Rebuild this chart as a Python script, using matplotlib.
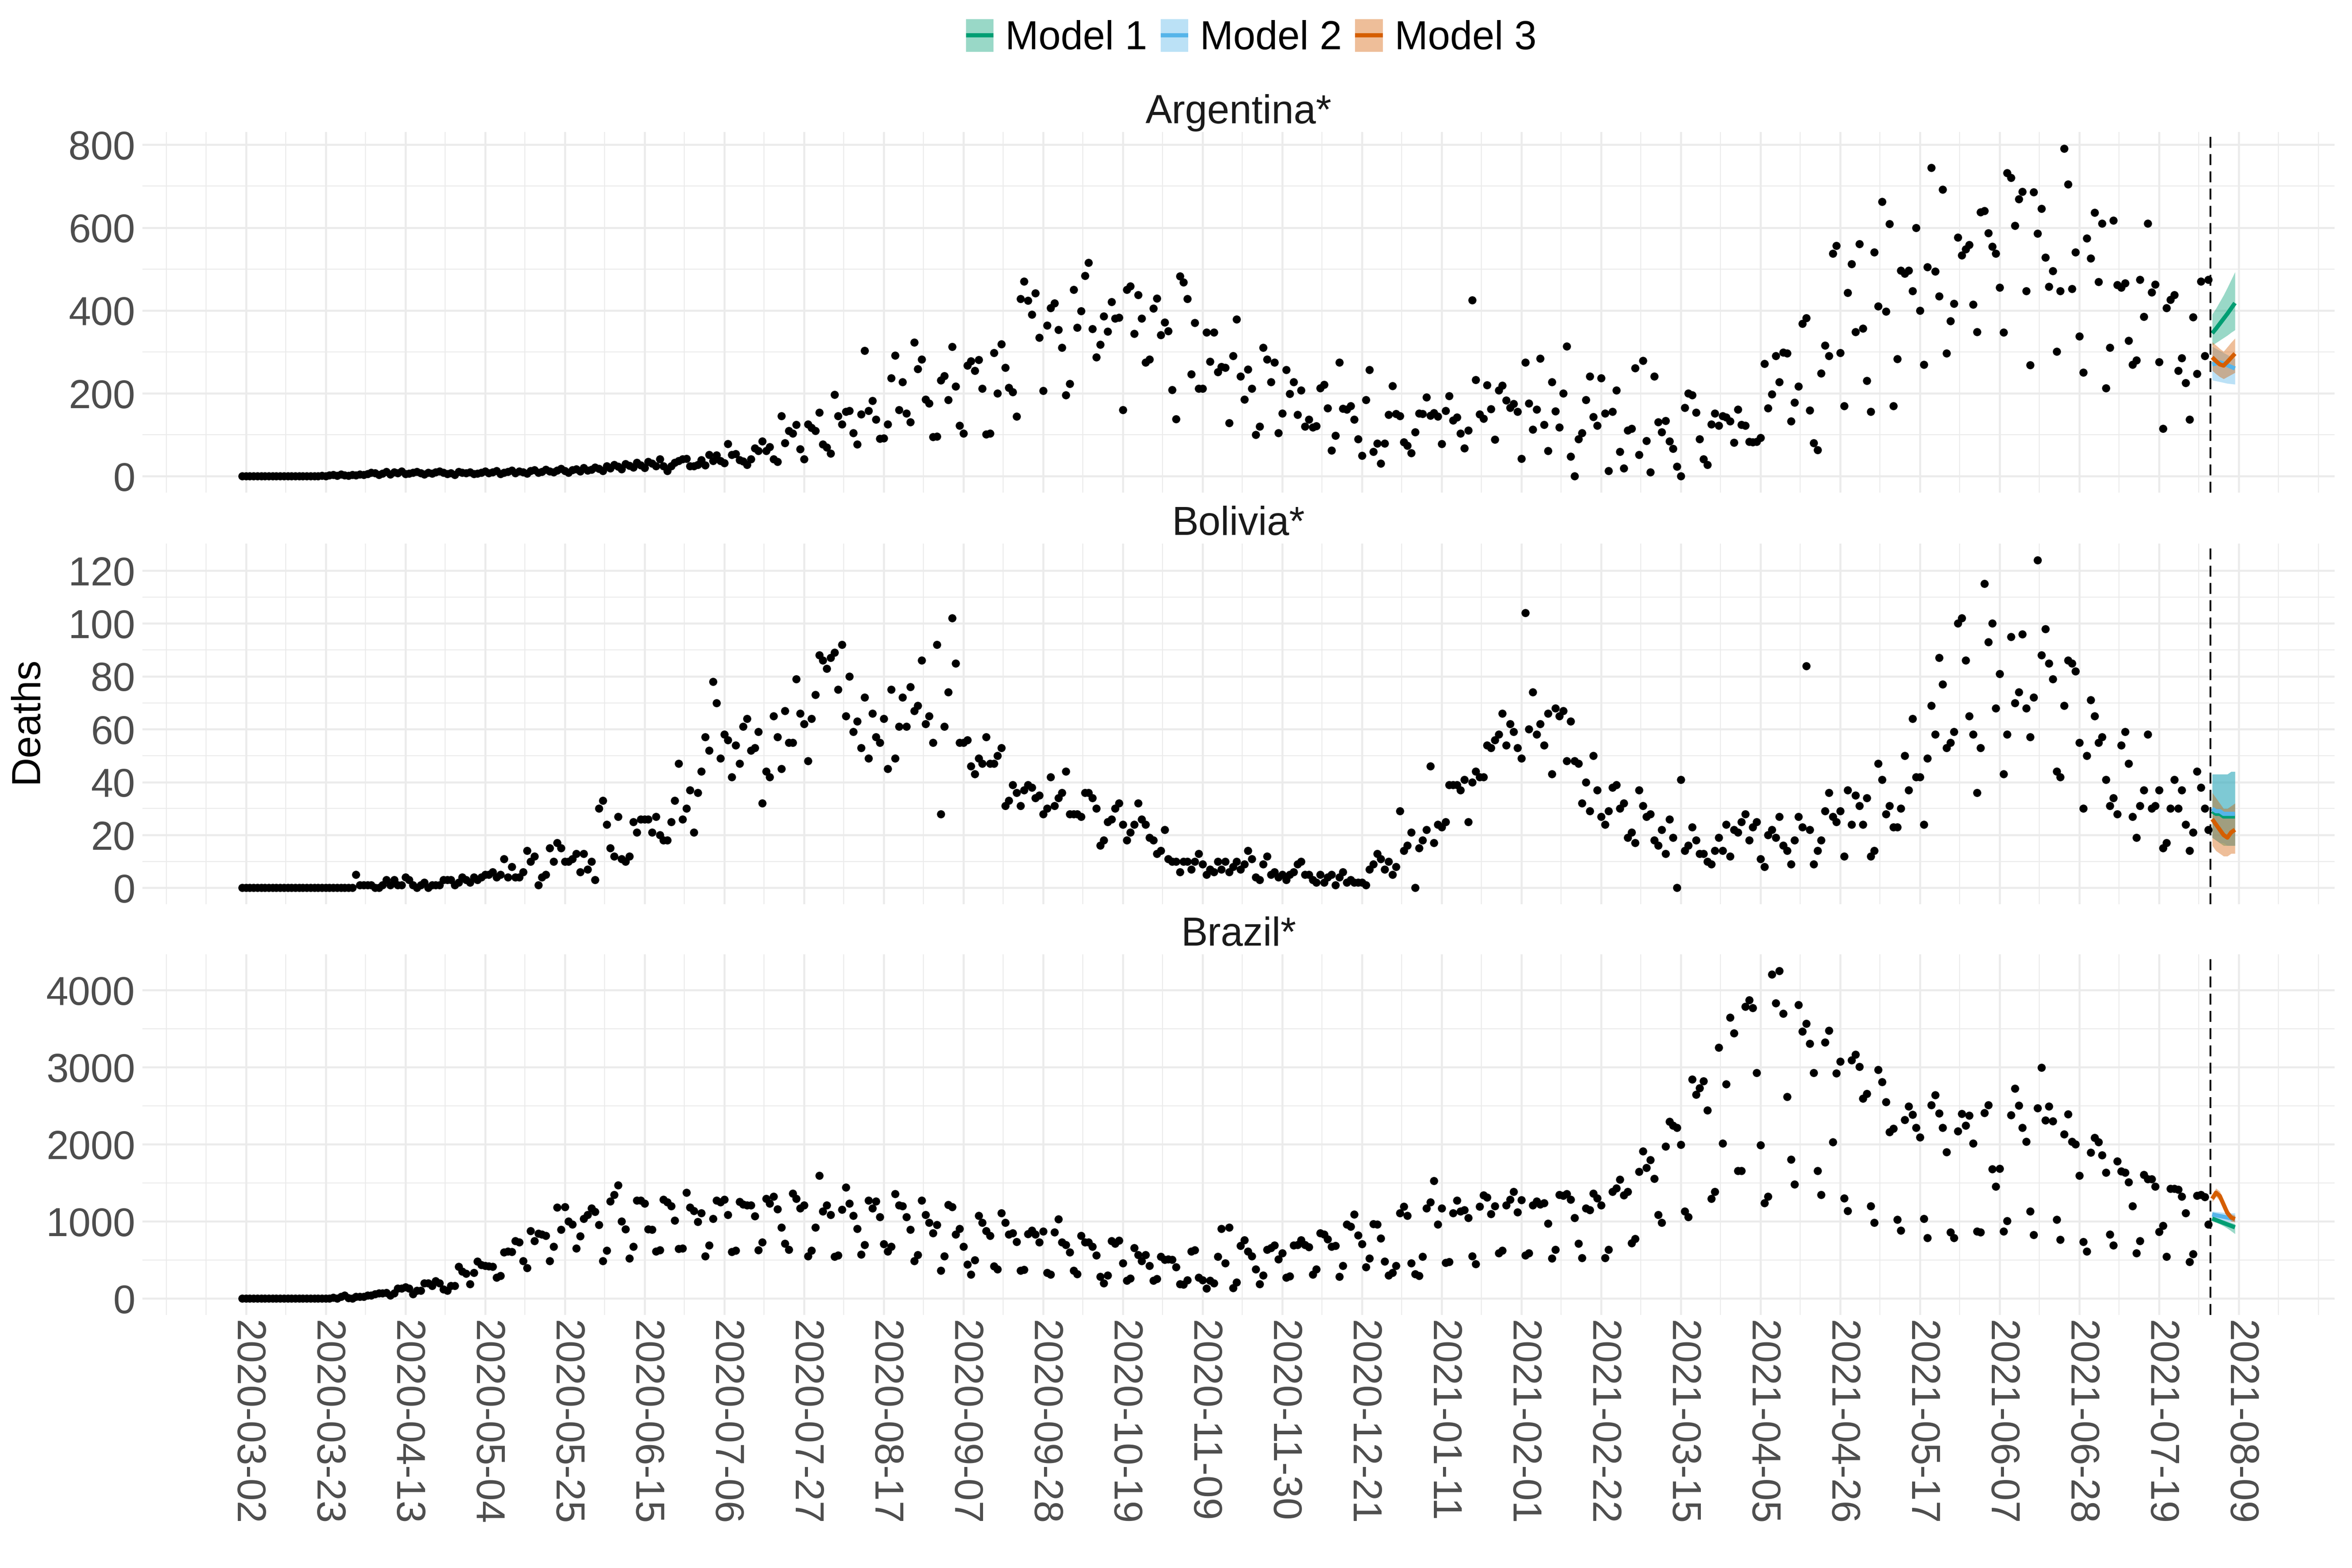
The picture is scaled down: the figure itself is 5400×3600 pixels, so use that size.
import numpy as np
import pandas as pd
import matplotlib
matplotlib.use('Agg')
import matplotlib.pyplot as plt
from matplotlib.patches import Rectangle
from matplotlib.lines import Line2D
from matplotlib.legend_handler import HandlerBase
from matplotlib.ticker import FixedLocator
import matplotlib.dates as mdates

plt.rcParams['font.family'] = ['Liberation Sans', 'DejaVu Sans']

first_day = '2020-03-01'

argentina = [
    0, 0, 0, 0, 0, 0, 0, 1, 0, 0, 0, 0, 0, 0, 0,
    0, 1, 0, 1, 0, 1, 2, 1, 3, 4, 2, 5, 3, 2, 4, 3, 5,
    4, 6, 9, 8, 4, 7, 11, 5, 10, 8, 12, 6, 7, 9, 11, 8, 5, 9, 7, 10, 12, 9, 6, 8, 4, 11, 9, 8, 10, 6,
    7, 9, 12, 8, 10, 13, 6, 9, 11, 14, 8, 12, 10, 7, 13, 15, 9, 11, 16, 12, 10, 14, 18, 13, 9, 15, 17, 12, 20, 14,
    16, 22, 18, 13, 25, 19, 28, 24, 17, 30, 26, 21, 33, 27, 20, 35, 31,
    25, 42, 25, 13, 25, 33, 37, 41, 43, 25, 25, 28, 39, 27, 52, 37, 51, 37, 32, 78,
    52, 54, 39, 36, 28, 41, 68, 61, 85, 61, 71, 41, 35, 145, 80, 110, 104, 124, 66, 41,
    126, 117, 110, 154, 77, 70, 55, 197, 146, 126, 156, 158, 105, 77, 150, 303, 158, 182, 137, 91,
    92, 126, 237, 292, 160, 228, 152, 131, 323, 259, 282, 185, 176, 95, 96, 232, 242, 184, 313, 217,
    122, 104, 267, 278, 255, 281, 212, 101, 104, 298, 200, 319, 262, 214, 203, 144, 428, 470, 424, 390,
    442, 335, 206, 364, 406, 418, 354, 311, 196, 223, 450, 359, 399, 484, 515, 356, 287, 318, 386, 349,
    421, 381, 383, 160, 450, 459, 344, 438, 381, 275, 282, 405, 429, 341, 371, 350, 209, 138, 483, 468,
    428, 246, 370, 212, 212, 347, 277, 347,
    252, 264, 262, 129, 291, 379, 241, 185, 258, 212, 100, 120, 310, 282, 228, 275, 105, 152, 257, 199,
    228, 149, 207, 120, 137, 118, 121, 213, 221, 164, 62, 98, 275, 163, 161, 170, 137, 90, 50, 184,
    257, 59, 79, 31, 79, 149, 218, 151, 145, 82, 74, 56, 107, 152, 151, 191, 147, 153, 144, 78,
    158, 194, 135, 142, 103, 68, 111, 425, 233, 150, 139, 220, 162, 89, 207, 219, 183, 166, 175, 156,
    43, 275, 176, 113, 161, 284, 124, 61, 227, 157, 118, 200, 314, 48, 0, 90, 105, 184, 241, 143,
    122, 237, 152, 13, 156, 207, 59, 19, 111, 115, 261, 52, 279, 86, 10, 241, 131, 107, 134, 85,
    67, 24, 0, 166, 200, 196, 154, 90, 41, 28, 126, 152, 122, 145, 142, 133, 81, 161, 124, 122,
    84, 82, 84, 93, 272, 164, 198, 291, 228, 299,
    297, 133, 178, 217, 368, 382, 159, 80, 64, 248, 316, 291, 537, 556, 298, 170, 443, 512, 348, 561,
    357, 231, 156, 541, 410, 663, 398, 609, 170, 283, 496, 489, 496, 447, 599, 400, 269, 505, 745, 494,
    434, 692, 297, 375, 417, 576, 533, 548, 558, 415, 348, 637, 640, 587, 554, 538, 456, 347, 732, 720,
    605, 669, 687, 447, 268, 686, 586, 646, 528, 458, 495, 301, 447, 791, 705, 452, 541, 338, 251, 574,
    526, 636, 469, 610, 213, 310, 617, 462, 456, 466, 327, 270, 280, 474, 385, 610, 444, 463, 276, 115,
    406, 426, 438, 255, 285, 225, 137, 384, 247, 470, 291, 474,
]

bolivia = [
    0, 0, 0, 0, 0, 0, 0, 0, 0, 0, 0, 0, 0, 0, 0, 0, 0, 0, 0, 0, 0, 0, 0, 0, 0, 0, 0, 0, 0, 0,
    5, 1, 1, 1, 1, 0, 0, 1, 3, 1, 3, 1, 1, 4, 3, 1, 0, 1, 2, 0, 1, 1, 1, 3, 3, 3, 1, 2, 4, 3,
    2, 4, 3, 4, 5, 5, 6, 4, 5, 11, 4, 8, 4, 4, 6, 14, 10, 12, 1, 4, 5, 15, 10, 17, 15, 10, 10, 11, 13, 6,
    13, 7, 10, 3, 30, 33, 24, 15, 12, 27, 11, 10, 12, 25, 21, 26, 26, 26, 21, 27,
    20, 18, 18, 25, 33, 47, 26, 30, 37, 21, 36, 44, 57, 52, 78, 70, 49, 58, 56, 42, 54, 47, 61, 64, 52,
    53, 59, 32, 44, 42, 65, 57, 45, 67, 55, 55, 79, 66, 62, 48, 64, 73, 88, 86, 83,
    87, 89, 75, 92, 65, 80, 59, 63, 53, 72, 49, 66, 57, 55, 64, 45, 75, 49, 61, 72,
    61, 76, 67, 69, 86, 62, 65, 55, 92, 28, 61, 74, 102, 85, 55, 55, 56, 46, 43, 49,
    47, 57, 47, 47, 50, 53, 31, 33, 39, 36, 31, 37, 39, 38, 34, 35, 28, 30, 42, 31,
    34, 36, 44, 28, 28, 28, 27, 36, 36, 34, 30, 16, 18, 25, 26, 30, 32, 24, 18, 21,
    24, 32, 26, 24, 19, 18, 13, 14, 22, 11, 10, 10, 6, 10, 10, 7, 10, 13, 9, 5,
    7, 6, 10, 7, 10, 6, 8, 10, 7, 9, 14, 11, 4, 3, 9, 12, 5, 6, 4, 5,
    3, 5, 6, 9, 10, 5, 5, 3, 2, 5, 2, 4, 5, 1, 4, 6, 2, 3, 2, 2,
    2, 1, 7, 9, 13, 11, 7, 10, 5, 8, 29, 14, 16, 21, 0, 15, 18, 22, 46, 17,
    24, 23, 25, 39, 39, 39, 37, 41, 25, 40, 44, 42, 42, 54, 53, 56, 58, 66, 54, 62,
    59, 53, 49, 104, 60, 74, 58, 62, 54, 66, 43, 68, 65, 67, 48, 63, 48, 47, 32, 40,
    29, 50, 37, 27, 24, 29, 38, 39, 30, 32, 19, 21, 17, 37, 31, 27, 28, 18, 16, 22,
    13, 26, 19, 0, 41, 14, 16, 23, 18, 13, 13, 10, 9, 14, 19, 14, 24, 12, 22, 21,
    25, 28, 18, 23, 25, 11, 8, 20, 22, 19, 27, 16, 14, 9, 18, 27, 23,
    84, 22, 9, 14, 18, 29, 36, 27, 25, 29, 12, 37, 24, 35, 31, 24, 34, 12, 14, 47,
    41, 28, 31, 23, 23, 30, 50, 37, 64, 42, 42, 24, 49, 69, 58, 87, 77, 53, 55, 59,
    100, 102, 86, 65, 58, 36, 53, 115, 93, 100, 68, 81, 43, 58, 95, 70, 74, 96, 68, 57,
    72, 124, 88, 98, 85, 79, 44, 42, 69, 86, 85, 82, 55, 30, 50, 71, 65, 55, 57, 41,
    31, 34, 28, 54, 59, 47, 27, 19, 31, 37, 58, 30, 31, 37, 15, 17, 30, 41, 30, 37,
    24, 14, 21, 44, 38, 30, 22,
]

brazil = [
    0, 0, 0, 0, 0, 0, 0, 0, 0, 0, 0, 0, 0, 0, 0, 0, 0, 0, 0, 0, 0, 0, 1, 4, 11,
    0, 25, 40, 9, 0, 25, 25, 25, 40, 40, 56, 71, 71, 77, 40, 71, 133, 133, 149, 133,
    56, 102, 102, 201, 201, 164, 226, 201, 118, 102, 164, 164, 412, 350, 325, 189, 334, 480, 437, 427,
    418, 412, 272, 294, 598, 613, 604, 746, 728, 489, 396, 876, 746, 845, 830, 814, 489, 675, 1180, 892,
    1186, 1000, 963, 653, 808, 1037, 1087, 1170, 1124, 954, 489, 622, 1263, 1347, 1471, 1000, 901, 520, 675, 1272,
    1272, 1232, 901, 892, 613, 628, 1285, 1248, 1201, 1015, 644, 653, 1372, 1180, 1139, 994, 1108, 551, 690, 1037,
    1272, 1248, 1285, 1087, 604, 622, 1254, 1223, 1211, 1211, 1068, 628, 728, 1294, 1232, 1325, 1161, 923, 715, 635,
    1365, 1294, 1170, 1211, 551, 622, 923,
    1594, 1130, 1211, 1087, 542, 560, 1155, 1440, 1232, 1077, 907, 573, 697, 1272, 1170, 1263, 1056, 706, 613, 675,
    1356, 1211, 1201, 1056, 892, 489, 567, 1272, 1087, 985, 851, 954, 365, 551, 1217, 1186, 830, 907, 675, 443,
    313, 498, 1077, 985, 876, 814, 418, 381, 1108, 985, 830, 851, 737, 365, 375, 839, 882, 830, 728, 870,
    334, 313, 861, 1031, 728, 697, 598, 365, 319, 814, 728, 728, 675, 560, 282, 201, 303, 746, 715, 752,
    458, 232, 263, 659, 567, 489, 567, 427, 232, 257, 542, 505, 511, 505, 406, 189, 180, 241, 613, 628,
    272, 241, 133, 232, 201, 542, 907, 458, 923, 139, 211, 684, 759, 613, 551, 381, 189, 303, 635, 659,
    690, 511, 591, 272, 288, 690, 697, 759, 697, 666, 313, 381, 851, 830, 768, 675, 684, 282, 427, 963,
    932, 1093, 820, 706, 406, 520, 969, 963, 783, 480, 303, 334, 427, 1108, 1192, 1077, 458, 319,
    294, 542, 1170, 1248, 1526, 963, 1170, 467, 474, 1108, 1272, 1130, 1149, 1046, 551, 449, 1192, 1341, 1310, 1099,
    1201, 591, 622, 1211, 1285, 1387, 1118, 1279, 560, 591, 1211, 1263, 1223, 1241, 975, 520, 635, 1347, 1334, 1356,
    1285, 1046, 715, 529, 1170, 1149, 1365, 1303, 1211, 529, 635, 1387, 1433, 1542, 1341, 1387, 721, 777, 1644, 1913,
    1697, 1799, 1557, 1087, 985, 1975, 2294, 2245, 2214, 1997, 1130, 1056, 2842, 2647, 2728, 2820, 2440, 1294, 1387, 3254,
    2015, 2780, 3647, 3440, 1656, 1656, 3786, 3873, 3771, 2926, 1991, 1241, 1325, 4204, 3833, 4251, 3693, 2616, 1805, 1480,
    3811, 3461, 3563, 3307, 2926, 1656, 1347, 3322, 3477, 2028, 2920, 3074, 1303, 1139, 3090, 3167, 3006, 2594, 2656, 1201,
    985, 2966, 2811, 2548, 2161, 2207, 1025, 882, 2316, 2492, 2387, 2214,
    2090, 1034, 786, 2511, 2641, 2402, 2214, 1898, 858, 786, 2170, 2399, 2245, 2372, 2012, 870, 858, 2406, 2508, 1681,
    1455, 1687, 870, 1006, 2378, 2724, 2502, 2214, 2037, 1130, 827, 2471, 2997, 2313, 2495, 2300, 1025, 762, 2130, 2393,
    2037, 2003, 1594, 737, 613, 1892, 2084, 2031, 1861, 1635, 830, 690, 1780, 1650, 1635, 1511, 1201, 591, 746, 1604,
    1551, 1551, 1455, 867, 944, 542, 1427, 1424, 1412, 1325, 1108, 477, 576, 1334, 1347, 1319, 963,
]

# ======= one-week forecasts (2021-08-02 .. 2021-08-08): mean, lower, upper

forecast_start = '2021-08-02'

arg_m1_mid = [345, 356, 368, 380, 392, 405, 418]
arg_m1_lo = [316, 322, 328, 334, 340, 347, 353]
arg_m1_hi = [391, 405, 421, 437, 455, 474, 493]
arg_m2_mid = [270, 272, 275, 272, 268, 264, 260]
arg_m2_lo = [232, 230, 228, 226, 224, 223, 222]
arg_m2_hi = [313, 308, 303, 298, 293, 288, 284]
arg_m3_mid = [287, 278, 270, 267, 276, 286, 296]
arg_m3_lo = [255, 247, 240, 235, 240, 245, 250]
arg_m3_hi = [324, 316, 308, 301, 312, 323, 333]

bol_m1_mid = [29, 28, 28, 27, 27, 27, 27]
bol_m1_lo = [19, 18, 17, 16, 16, 16, 16]
bol_m1_hi = [43, 43, 43, 43, 43, 44, 44]
bol_m2_mid = [30, 29, 29, 28, 28, 28, 28]
bol_m2_lo = [19, 18, 17, 17, 16, 16, 16]
bol_m2_hi = [43, 43, 43, 43, 43, 44, 44]
bol_m3_mid = [26, 24, 22, 20, 19, 21, 22]
bol_m3_lo = [16, 14, 13, 12, 12, 13, 13]
bol_m3_hi = [36, 34, 32, 30, 30, 31, 32]

bra_m1_mid = [1037, 1018, 999, 980, 961, 942, 923]
bra_m1_lo = [1005, 985, 965, 940, 910, 875, 839]
bra_m1_hi = [1070, 1052, 1034, 1016, 998, 984, 969]
bra_m2_mid = [1090, 1080, 1070, 1060, 1050, 1040, 1035]
bra_m2_lo = [1040, 1030, 1020, 1010, 1000, 995, 990]
bra_m2_hi = [1130, 1125, 1120, 1115, 1110, 1108, 1108]
bra_m3_mid = [1294, 1372, 1330, 1220, 1110, 1050, 1030]
bra_m3_lo = [1250, 1320, 1270, 1170, 1060, 1000, 990]
bra_m3_hi = [1340, 1430, 1390, 1280, 1160, 1095, 1080]

countries = ['Argentina*', 'Bolivia*', 'Brazil*']
model_names = ['Model 1', 'Model 2', 'Model 3']
model_colors = ['#009E73', '#56B4E9', '#D55E00']

y_major = [[0, 200, 400, 600, 800], [0, 20, 40, 60, 80, 100, 120], [0, 1000, 2000, 3000, 4000]]
y_minor = [[100, 300, 500, 700], [10, 30, 50, 70, 90, 110], [500, 1500, 2500, 3500]]

panels = [
    (argentina, [(arg_m1_mid, arg_m1_lo, arg_m1_hi), (arg_m2_mid, arg_m2_lo, arg_m2_hi), (arg_m3_mid, arg_m3_lo, arg_m3_hi)]),
    (bolivia, [(bol_m1_mid, bol_m1_lo, bol_m1_hi), (bol_m2_mid, bol_m2_lo, bol_m2_hi), (bol_m3_mid, bol_m3_lo, bol_m3_hi)]),
    (brazil, [(bra_m1_mid, bra_m1_lo, bra_m1_hi), (bra_m2_mid, bra_m2_lo, bra_m2_hi), (bra_m3_mid, bra_m3_lo, bra_m3_hi)]),
]

# x breaks every three weeks, minor lines halfway (plus one step past each end)
x_major = pd.date_range('2020-03-02', '2021-08-09', freq='21D')
step = pd.Timedelta(days=21)
x_minor = list(x_major[:-1] + step / 2) + [x_major[0] - step, x_major[0] - step / 2,
                                            x_major[-1] + step / 2, x_major[-1] + step]

fdays = pd.date_range(forecast_start, periods=7)


# legend key: ribbon box with the mean line across its middle
class BandKey(HandlerBase):
    def create_artists(self, legend, orig_handle, xdescent, ydescent, width, height, fontsize, trans):
        col = orig_handle.get_color()
        box = Rectangle((-xdescent, -ydescent), width, height, facecolor=col, alpha=0.4,
                        edgecolor='none', transform=trans)
        mid = -ydescent + height / 2
        line = Line2D([-xdescent, -xdescent + width], [mid, mid], color=col, lw=2.3,
                      solid_capstyle='butt', transform=trans)
        return [box, line]


# ======= figure

fig = plt.figure(figsize=(18, 12), dpi=300)
left, width, height = 0.0606, 0.932, 0.230
tops = [0.9158, 0.6533, 0.3914]
grid_col = '#EBEBEB'
axes = []

for i, (obs, fcs) in enumerate(panels):
    ax = fig.add_axes([left, tops[i] - height, width, height], sharex=axes[0] if axes else None)
    axes.append(ax)
    days = pd.date_range(first_day, periods=len(obs))

    for (mid, lo, hi), col in zip(fcs, model_colors):
        ax.fill_between(fdays, lo, hi, color=col, alpha=0.4, lw=0, zorder=2)
    for (mid, lo, hi), col in zip(fcs, model_colors):
        ax.plot(fdays, mid, color=col, lw=2.3, zorder=4, solid_capstyle='butt')
    ax.scatter(days, obs, s=20, c='black', linewidths=0, zorder=3)
    ax.axvline(days[-1] + pd.Timedelta(hours=12), color='black', lw=1.0,
               ls=(0, (6, 3.5)), zorder=5)

    ax.margins(x=0.05, y=0.05)
    for s in ax.spines.values():
        s.set_visible(False)
    ax.yaxis.set_major_locator(FixedLocator(y_major[i]))
    ax.yaxis.set_minor_locator(FixedLocator(y_minor[i]))
    ax.grid(which='major', color=grid_col, lw=1.1)
    ax.grid(which='minor', color=grid_col, lw=0.55)
    ax.set_axisbelow(True)
    ax.tick_params(which='both', length=0)
    ax.tick_params(axis='y', labelsize=22, labelcolor='#4D4D4D', pad=4)
    ax.text(0.5, 1 + 20 / 828, countries[i], transform=ax.transAxes, ha='center',
            va='baseline', fontsize=22, color='#1A1A1A')

bottom = axes[-1]
bottom.xaxis.set_major_locator(FixedLocator(mdates.date2num(x_major)))
bottom.xaxis.set_minor_locator(FixedLocator(mdates.date2num(pd.DatetimeIndex(x_minor))))
bottom.xaxis.set_major_formatter(mdates.DateFormatter('%Y-%m-%d'))
for ax in axes[:-1]:
    ax.tick_params(axis='x', labelbottom=False)
bottom.tick_params(axis='x', labelsize=22, labelcolor='#4D4D4D', pad=3)
for lab in bottom.get_xticklabels():
    lab.set_rotation(-90)
    lab.set_ha('center')
    lab.set_va('top')

fig.text(62 / 5400, 0.541, 'Deaths', rotation=90, ha='center', va='center', fontsize=22)

handles = [Line2D([], [], color=c) for c in model_colors]
fig.legend(handles, model_names, handler_map={Line2D: BandKey()},
           loc='center', bbox_to_anchor=(0.532, 0.9756), ncol=3, frameon=False, fontsize=22,
           handlelength=0.69, handleheight=0.88, handletextpad=0.3, columnspacing=0.33,
           borderpad=0)

fig.savefig('out.png', dpi=300)
